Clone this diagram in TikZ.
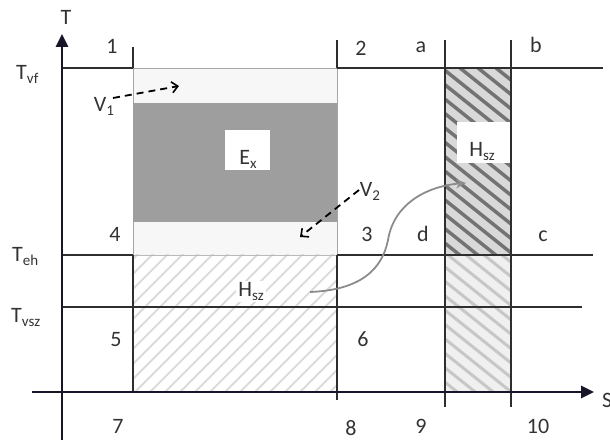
\documentclass[tikz,border=0pt]{standalone}
\usepackage{fontspec}
\setmainfont{Carlito}
\usetikzlibrary{arrows.meta}
\definecolor{exgray}{gray}{0.62}
\definecolor{lightfill}{gray}{0.97}
\definecolor{stripbg}{gray}{0.85}
\definecolor{stripdark}{gray}{0.45}
\definecolor{striplbg}{gray}{0.94}
\definecolor{stripline}{gray}{0.78}
\definecolor{hatchlight}{gray}{0.86}
\definecolor{axiscol}{RGB}{22,22,40}
\definecolor{linecol}{gray}{0.18}
\definecolor{txtcol}{gray}{0.2}
\definecolor{curvecol}{gray}{0.55}
\newcommand\sbx[1]{\raisebox{-0.3ex}{\fontsize{15}{15}\selectfont #1}}
\begin{document}
\begin{tikzpicture}[x=1pt,y=-1pt,
  lbl/.style={inner sep=0pt,anchor=base,font=\fontsize{22}{26}\selectfont,text=txtcol},
  gridline/.style={line width=1.5pt,draw=linecol},
  axisline/.style={line width=2.6pt,draw=axiscol,-{Triangle[length=13pt,width=12pt]}},
  dasharrow/.style={line width=1.8pt,draw=black,dash pattern=on 7pt off 5pt,-{Straight Barb[length=6pt,width=11pt,line width=1.6pt]}},
  curvearrow/.style={line width=1.8pt,draw=curvecol,-{Stealth[length=10pt,width=9pt,fill=curvecol]}},
  whitebox/.style={fill=white,inner sep=0pt,anchor=base,font=\fontsize{22}{26}\selectfont,text=txtcol}]
\useasboundingbox (0,0) rectangle (610,443);
% fills
\filldraw[fill=lightfill,draw=gray!70,line width=0.8pt] (133,68) rectangle (337,255);
\fill[exgray] (133,103) rectangle (337,222);
% lower-left hatch
\begin{scope}
\clip (133,255) rectangle (337,392);
\foreach \i in {-150,-135,...,345} \draw[hatchlight,line width=2pt] (\i,392) -- ++(160,-160);
\end{scope}
\draw[gray!55,line width=0.8pt] (133,255) -- (337,255);
% strip
\begin{scope}
\clip (445,68) rectangle (511,255);
\fill[stripbg] (445,68) rectangle (511,255);
\foreach \i in {-260,-242,...,520} \draw[stripdark,line width=3.5pt] (\i,68) -- ++(250,200);
\end{scope}
\begin{scope}
\clip (445,255) rectangle (511,392);
\fill[striplbg] (445,255) rectangle (511,392);
\foreach \i in {-200,-182,...,520} \draw[stripline,line width=3pt] (\i,255) -- ++(250,200);
\end{scope}
% grid lines
\draw[gridline] (62,68) -- (133,68);
\draw[gridline] (337,68) -- (603,68);
\draw[gridline] (62,255) -- (133,255);
\draw[gridline] (337,255) -- (593,255);
\draw[gridline] (62,307) -- (582,307);
\draw[gridline] (133,47) -- (133,68);
\draw[gridline] (133,255) -- (133,392);
\draw[gridline] (337,40) -- (337,68);
\draw[gridline] (337,255) -- (337,400);
\draw[gridline] (445,40) -- (445,407);
\draw[gridline] (511,40) -- (511,407);
% axes
\coordinate (yb) at (62,440);
\coordinate (yt) at (62,34);
\coordinate (xl) at (32,392);
\coordinate (xr) at (594,392);
\draw[axisline] (xl) -- (xr);
\draw[axisline] (yb) -- (yt);
% labels
\node[lbl] (tT) at (66,25) {T};
\node[lbl,anchor=base west] (tS) at (602,407) {S};
\node[lbl,anchor=base west] (tvf) at (16,80) {T\sbx{vf}};
\node[lbl,anchor=base west] (teh) at (12,262) {T\sbx{eh}};
\node[lbl,anchor=base west] (tvsz) at (11,323) {T\sbx{vsz}};
\node[lbl] (n1) at (112,54) {1};
\node[lbl] (n2) at (361,56) {2};
\node[lbl] (na) at (421,53) {a};
\node[lbl] (nb) at (536,53) {b};
\node[lbl] (n4) at (115,242) {4};
\node[lbl] (n3) at (367,242) {3};
\node[lbl] (nd) at (423,242) {d};
\node[lbl] (nc) at (543,242) {c};
\node[lbl] (n5) at (116,347) {5};
\node[lbl] (n6) at (363,347) {6};
\node[lbl] (n7) at (118,433) {7};
\node[lbl] (n8) at (351,435) {8};
\node[lbl] (n9) at (421,433) {9};
\node[lbl] (n10) at (538,433) {10};
% region labels
\fill[white] (225,130) rectangle (270,170);
\node[lbl] (ex) at (248,165) {E\sbx{x}};
\fill[white] (457,122) rectangle (510,163);
\node[lbl] (hs1) at (482,157) {H\sbx{sz}};
\node[whitebox,inner sep=2pt] (hs2) at (251,297) {H\sbx{sz}};
% V labels
\node[lbl] (v1) at (104,112) {V\sbx{1}};
\node[lbl] (v2) at (370,197) {V\sbx{2}};
% arrows
\coordinate (v1s) at (113,98);
\coordinate (v1e) at (179,86);
\draw[dasharrow] (v1s) -- (v1e);
\coordinate (v2s) at (359,190);
\coordinate (v2e) at (300,237);
\draw[dasharrow] (v2s) -- (v2e);
\coordinate (cs) at (310,292);
\coordinate (cm) at (388,240);
\coordinate (ce) at (466,183);
\draw[curvearrow] (cs) .. controls (360,290) and (382,270) .. (cm) .. controls (394,203) and (428,186) .. (ce);
\end{tikzpicture}
\end{document}
